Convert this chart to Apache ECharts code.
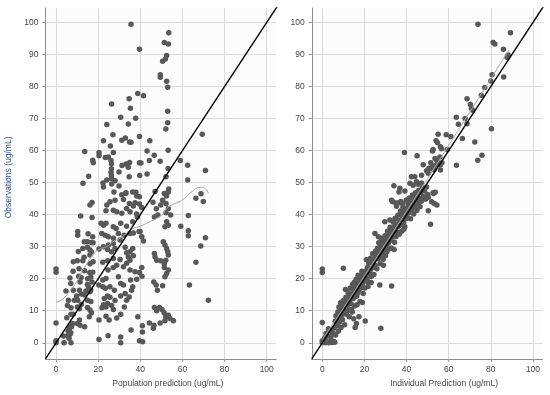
<!DOCTYPE html>
<html><head><meta charset="utf-8">
<script src="https://cdn.jsdelivr.net/npm/echarts@6/dist/echarts.min.js"></script>
<style>html,body{margin:0;padding:0;background:#fff}#c{width:550px;height:395px}</style>
</head><body><div id="c"></div>
<script>
const xTicks = [0, 20, 40, 60, 80, 100];
const yTicks = [0, 10, 20, 30, 40, 50, 60, 70, 80, 90, 100];
const leftXName = 'Population prediction (ug/mL)';
const rightXName = 'Individual Prediction (ug/mL)';
const yName = 'Observations (ug/mL)';

// [population prediction, observation]
const popPredObs = [
[35.6,99.4],[39.6,91.6],[53.5,96.8],[51.4,93.7],[53.3,93.3],[52.5,89.7],[51.9,88.6],[50.6,87.9],[49.5,83.7],[49.5,82.9],[52.5,81.6],[53.0,79.8],[53.0,72.3],[53.0,68.7],[52.1,66.7],[38.8,77.8],[41.5,77.1],[34.7,76.2],[35.3,73.2],[26.4,74.5],[30.7,70.4],[37.8,70.1],[34.3,68.3],[24.1,68.1],[69.4,65.1],[27.0,64.9],[39.6,64.4],[32.9,63.9],[31.2,63.2],[34.9,62.7],[35.6,62.6],[44.5,63.1],[22.5,63.1],[25.8,61.4],[13.6,59.7],[20.4,59.4],[27.2,59.4],[43.2,59.9],[53.2,60.1],[20.4,58.4],[23.4,57.8],[24.8,58.0],[46.6,58.5],[17.4,57.0],[17.7,56.2],[26.1,56.9],[26.3,55.9],[39.6,56.2],[40.3,56.1],[34.9,56.3],[33.2,55.8],[31.3,55.3],[44.3,56.9],[49.4,56.7],[59.0,56.9],[62.5,55.4],[34.3,54.8],[26.3,54.3],[53.2,54.4],[70.9,53.8],[26.1,53.2],[29.9,53.3],[15.5,52.0],[26.3,52.2],[34.7,51.8],[39.7,52.2],[43.2,52.7],[52.2,51.8],[26.4,51.2],[24.1,50.8],[28.0,50.6],[62.5,50.8],[12.8,49.8],[22.3,49.9],[22.5,48.6],[26.4,49.6],[29.9,48.9],[37.9,47.0],[33.2,46.8],[31.2,46.2],[47.0,47.2],[52.2,46.6],[68.8,46.5],[66.4,45.1],[69.9,44.1],[53.5,48.0],[39.6,45.6],
[0,23.0],[0,22.0],[0,6.2],[0,0.6],[0,0],[3.5,2.1],[3.8,0],[5.5,2.2],[5.7,3.7],[6.2,4.2],[7.0,3.1],[6.6,2.7],[7.4,5.0],[7.1,0],[6.2,1.4],
[4.7,16.2],[5.1,7.8],[5.4,11.6],[5.9,13.3],[7.0,18.5],[6.6,20.2],[7.1,10.9],[7.9,6.0],[8.2,16.4],[8.7,13.3],[9.8,14.6],[10.1,6.0],[10.1,11.2],[11.1,10.6],[11.1,16.4],[11.4,5.5],[11.1,7.1],[8.2,8.9],[7.1,8.9],[6.6,5.0],[12.0,15.2],[10.3,13.3],[8.1,22.3],[10.9,23.1],[10.8,20.8],[11.9,20.4],[11.4,19.0],[8.2,25.3],[10.1,25.6],[12.7,25.6],[13.3,26.7],[10.6,28.5],[12.7,29.4],[10.3,34.7],[10.3,33.6],[11.7,39.6],[13.6,5.0],
[13.4,31.5],[14.9,31.5],[16.8,31.3],[17.6,31.2],[15.2,34.0],[17.4,33.1],[14.9,29.8],[16.1,29.0],[16.8,28.3],[16.1,27.4],[16.1,24.7],[16.0,21.9],[16.5,20.5],[17.1,19.0],[14.9,18.2],[15.5,17.5],[16.5,16.4],[14.2,16.2],[14.9,16.2],[16.1,15.9],[14.9,13.3],[16.5,12.9],[14.9,11.0],[16.1,10.2],[16.8,9.4],[15.8,8.1],[13.3,15.0],[12.0,12.0],[17.1,43.8],[16.1,43.0],[17.1,39.1],[17.6,25.3],[17.4,22.0],[13.5,22.5],[15.0,20.0],
[20.4,1.0],[24.7,2.2],[30.7,1.8],[30.7,0],[39.6,0.6],[41.1,0.3],[41.0,5.3],[41.0,3.4],[38.8,8.1],[35.6,4.0],[20.4,7.1],[25.2,7.1],[23.7,8.3],[28.8,7.7],[30.7,8.9],
[21.8,10.9],[22.5,11.9],[23.7,11.2],[24.4,12.3],[26.4,11.6],[27.2,10.4],[22.9,13.8],[24.4,14.6],[25.6,14.2],[28.0,13.2],[30.7,14.6],[32.4,11.2],[33.5,13.3],[32.8,15.4],[34.7,14.3],
[20.3,18.0],[22.2,17.5],[23.4,17.0],[25.6,17.5],[22.2,19.6],[23.7,20.1],[27.7,16.4],[29.6,20.6],[30.7,18.5],[32.0,18.0],[35.4,19.6],[36.4,17.5],[35.9,16.4],[38.3,19.8],[40.8,20.8],
[24.7,22.7],[27.2,23.5],[28.8,24.2],[32.0,23.7],[33.5,24.8],[35.1,22.7],[37.5,22.2],[39.6,21.9],[40.7,23.5],
[22.2,25.1],[24.5,25.6],[27.2,26.3],[30.4,26.0],[34.3,26.8],[35.1,25.8],[36.7,27.2],[33.5,28.1],
[20.4,29.3],[22.5,30.0],[24.4,29.1],[26.4,28.4],[28.0,29.4],[24.8,30.5],[27.2,31.0],[30.4,32.1],[32.8,29.8],[36.4,29.4],[35.1,28.4],
[21.7,34.1],[23.3,33.6],[24.8,33.1],[27.2,32.6],[29.6,34.1],[32.3,33.6],[35.1,34.1],[36.7,34.3],[40.7,33.1],[41.5,31.8],[39.9,34.7],
[21.4,37.3],[22.5,36.7],[23.7,37.3],[27.2,36.2],[28.5,35.7],[30.7,37.3],[33.5,36.4],[36.4,37.8],[39.4,34.7],
[23.7,41.2],[27.2,41.4],[28.8,40.9],[31.2,40.4],[33.5,41.9],[35.1,40.9],[38.3,40.2],[38.6,39.3],[40.7,42.2],
[24.1,43.0],[25.6,44.0],[28.0,44.5],[32.0,44.7],[34.8,43.5],[36.7,42.7],[37.5,43.7],[39.6,43.3],
[33.1,46.6],[36.4,47.1],[38.3,45.8],[27.5,47.1],
[46.0,43.9],[47.6,41.8],[49.7,43.0],[50.6,44.5],[52.2,43.5],[53.3,41.9],[52.4,45.8],[53.3,47.1],[51.4,46.6],
[46.7,39.3],[48.3,39.9],[52.2,40.6],[52.5,37.8],[53.3,36.7],[51.7,36.2],[54.4,39.9],[59.2,36.4],
[46.7,27.9],[47.0,26.8],[47.8,25.8],[50.9,31.5],[51.7,30.5],[52.5,29.4],[53.0,28.4],[53.3,27.4],[52.1,25.8],[51.4,24.6],[49.7,25.6],
[46.4,19.0],[47.5,18.0],[48.1,16.4],[50.6,17.8],[51.7,20.6],[52.5,21.6],[53.3,22.7],[51.4,23.5],
[46.7,11.0],[47.8,10.0],[49.1,11.0],[50.3,10.4],[51.3,9.4],[52.1,8.1],[53.3,8.6],[54.1,7.6],[51.7,6.9],[49.4,6.2],[55.7,6.9],
[44.3,6.2],[46.2,4.5],[46.5,5.5],
[62.8,39.7],[62.8,35.0],[62.8,33.4],[63.3,18.0],[70.9,32.8],[68.7,30.2],[66.4,25.1],[72.3,13.3]
];

// smooth trend, population
const popSmooth = [[0,12.6],[2.8,13.5],[6.3,15.9],[10.3,19.6],[12,22],[14.2,24.2],[17.4,27.4],[20.6,29.2],[24,30],[27,31.5],[30,32.5],[33,34],[36,35.5],[39.1,36.2],[44.6,37.8],[50.2,39.9],[52.5,41.9],[54.9,43.0],[59.7,44.5],[64.4,47.1],[68.3,48.5],[70.5,48.3],[72.3,46.6]];

// [individual prediction, observation]
const indPredObs = [
[73.9,99.4],[89.3,96.8],[81.1,93.7],[81.9,93.3],[86.0,91.6],[88.2,89.8],[87.7,89.1],[86.1,83.0],[80.6,83.7],[80.0,81.7],[77.1,79.7],[75.5,77.3],[68.7,76.2],[70.3,74.4],[70.8,73.2],[71.3,72.6],[63.6,70.4],[67.8,70.0],[64.6,68.2],[68.7,68.4],[80.3,66.8],[55.0,65.1],[58.8,64.9],[61.0,64.4],[66.5,63.8],[72.4,62.7],[54.0,63.1],[54.7,62.4],[56.1,61.2],[39.0,59.4],[52.3,59.9],[59.3,60.3],[45.0,58.4],[75.8,58.5],[73.8,57.0],[53.5,57.5],[54.5,56.8],[55.2,56.0],[56.0,55.5],[53.8,55.4],[52.3,55.0],[51.5,56.2],[53.0,54.0],[56.8,56.2],[47.9,55.6],[63.7,55.4],[50.6,54.5],[51.8,54.4],[49.5,53.7],[56.1,53.9],[42.3,51.8],[43.9,51.8],[47.1,52.3],[50.3,52.9],[41.6,49.8],[44.7,50.3],[45.5,49.5],[43.1,49.2],[47.1,49.9],[34.0,49.0],[36.8,48.2],[36.4,47.1],[39.2,47.4],[32.9,44.5],[50.3,45.4],[52.6,46.8],[55.8,58.0],[52.6,60.3],[56.6,60.6],
[0,23.0],[0,21.9],[0,6.3],[10.0,23.3],
[0,0],[0,0.6],[0.8,0.2],[1.5,0],[2.2,0.3],[3.1,0],[3.8,0.4],[4.6,0.1],[5.3,0.5],[5.9,0.2],[1.2,1.6],[2.6,2.1],[3.4,3.8],[4.1,1.9],[4.9,3.1],[5.6,4.6],[6.3,2.4],[6.8,5.2],[2.9,4.4],[1.8,2.9],
[7.2,7.9],[7.6,3.6],[8.1,6.4],[8.4,9.8],[8.9,4.8],[9.3,11.4],[9.6,7.2],[9.9,13.1],[10.3,9.1],[10.6,5.6],[6.5,8.4],[7.9,11.2],[8.7,12.5],[9.1,8.6],[6.1,6.7],[7.4,9.6],[10.8,12.0],[10.1,10.4],
[11.2,14.2],[11.5,8.9],[11.9,11.7],[12.3,15.6],[12.6,10.2],[12.9,13.4],[13.3,17.1],[13.6,12.2],[13.9,15.1],[14.2,9.6],[14.4,18.3],[14.7,13.8],[15.0,16.4],[15.3,11.5],[11.0,16.6],[12.1,12.8],[13.1,14.7],[14.1,16.9],[15.2,18.9],[11.7,9.9],[12.8,8.1],[13.8,10.4],[15.5,14.3],[14.9,7.5],[16.2,6.0],[15.6,4.8],
[15.8,17.6],[16.1,19.8],[16.4,14.6],[16.7,18.2],[17.0,21.1],[17.3,16.3],[17.6,19.4],[17.9,12.9],[18.2,20.6],[18.5,17.2],[18.8,22.3],[19.1,18.6],[19.4,15.4],[19.7,20.9],[20.0,19.3],[16.9,15.7],[18.0,18.9],[19.2,21.4],[20.2,17.1],[20.4,6.8],[17.4,8.1],[19.0,12.6],[16.5,11.9],
[20.6,22.4],[20.9,25.9],[21.2,20.1],[21.5,23.5],[21.8,19.0],[22.1,24.8],[22.4,21.6],[22.7,26.3],[23.0,22.9],[23.3,20.7],[23.6,25.1],[23.9,27.8],[24.2,23.6],[24.5,21.3],[24.8,26.4],[25.1,24.2],[21.0,21.9],[22.6,23.2],[24.0,25.5],[25.3,28.6],[23.2,18.8],[21.7,17.6],
[25.6,27.3],[25.9,23.1],[26.2,29.5],[26.5,26.2],[26.8,31.2],[27.1,28.1],[27.4,24.7],[27.7,30.3],[28.0,27.0],[28.3,32.6],[28.6,29.2],[28.9,26.1],[29.2,31.4],[29.5,28.3],[29.8,33.4],[30.1,30.1],[26.3,27.9],[27.6,29.0],[28.8,30.6],[30.0,27.2],[27.3,18.0],[27.8,4.5],[29.0,24.2],
[30.4,32.2],[30.7,28.5],[31.0,34.8],[31.3,31.1],[31.6,29.3],[31.9,33.7],[32.2,36.1],[32.5,31.9],[32.8,29.6],[33.1,35.2],[33.4,33.0],[33.7,37.6],[34.0,34.1],[34.3,31.4],[34.6,36.3],[34.9,38.9],[31.4,32.8],[32.6,34.4],[33.8,35.9],[35.0,33.2],[32.9,17.7],[34.1,29.1],
[35.3,37.1],[35.6,34.6],[35.9,39.8],[36.2,36.4],[36.5,33.9],[36.8,38.2],[37.1,41.1],[37.4,36.9],[37.7,34.8],[38.0,39.5],[38.3,42.3],[38.6,37.6],[38.9,40.4],[39.2,36.2],[39.5,41.7],[39.8,38.8],[36.0,43.6],[37.3,44.1],[35.2,42.6],[38.1,43.4],[39.9,44.6],[36.9,40.1],[38.7,35.4],
[40.1,42.0],[40.4,39.1],[40.7,43.4],[41.0,40.6],[41.3,45.2],[41.6,42.1],[41.9,38.7],[42.2,44.3],[42.5,41.5],[42.8,46.1],[43.1,43.0],[43.4,40.2],[43.7,45.3],[44.0,42.6],[44.3,46.8],[44.6,44.0],[44.9,41.3],[45.2,46.3],[45.5,43.6],[45.8,47.6],[46.1,45.1],[46.4,42.5],[46.7,46.9],[47.0,44.2],[47.5,48.3],[48.0,45.6],[48.5,47.4],[49.0,44.8],[49.5,48.6],[50.0,46.3],[50.3,41.2],[51.4,37.0],[51.9,44.0],[53.2,43.5],[52.8,46.6],[53.6,47.0],[54.4,43.0],
[29.7,37.8],[32.1,38.3],[34.5,38.8],[36.8,37.8],[25.0,34.1],[26.6,33.1],[28.1,32.1],[29.7,31.0],[33.4,44.0],[35.0,43.6]
];

// smooth trend, individual
const indSmooth = [[0,1.0],[10,10.8],[20,20.9],[30,31.0],[40,41.1],[50,51.3],[60,61.6],[70,72.0],[80,82.4],[88.5,91.3]];

// line of identity
const identity = [[-5,-5],[110,110]];

const FONT = 'Liberation Sans, Arial, sans-serif';
const AX = '#8c8c8c';

function xAxis(gi, name, pad) {
  return {
    type: 'value', gridIndex: gi, min: -5, max: 104.5,
    name: name, nameLocation: 'middle', nameGap: 20,
    nameTextStyle: {fontSize: 8.5, color: '#444', fontFamily: FONT, padding: [0, 0, 0, pad]},
    axisLine: {show: true, onZero: false, lineStyle: {color: AX, width: 1}},
    axisTick: {show: true, customValues: xTicks, length: 3, lineStyle: {color: AX}},
    axisLabel: {customValues: xTicks, fontSize: 8.5, color: '#444', margin: 6, fontFamily: FONT},
    splitLine: {show: true, lineStyle: {color: '#dcdcdc', width: 1}}
  };
}
function yAxis(gi, name) {
  const a = {
    type: 'value', gridIndex: gi, min: -5, max: 104.5,
    axisLine: {show: true, onZero: false, lineStyle: {color: AX, width: 1}},
    axisTick: {show: true, customValues: yTicks, length: 3, lineStyle: {color: AX}},
    axisLabel: {customValues: yTicks, fontSize: 8.5, color: '#444', margin: 7, fontFamily: FONT},
    splitLine: {show: true, lineStyle: {color: '#dcdcdc', width: 1}}
  };
  if (name) {
    a.name = name; a.nameLocation = 'middle'; a.nameGap = 32;
    a.nameTextStyle = {fontSize: 8.5, color: '#2f4f86', fontFamily: FONT, padding: [0, 0, 0, 12]};
  }
  return a;
}

const chart = echarts.init(document.getElementById('c'), null, {renderer: 'canvas'});
chart.setOption({
  animation: false,
  backgroundColor: '#fff',
  grid: [
    {left: 45.5, top: 8, width: 230.7, height: 350.8, show: true, backgroundColor: '#fcfcfd', borderWidth: 0},
    {left: 311.75, top: 8, width: 230.7, height: 350.8, show: true, backgroundColor: '#fcfcfd', borderWidth: 0}
  ],
  xAxis: [xAxis(0, leftXName, 14), xAxis(1, rightXName, 34)],
  yAxis: [yAxis(0, yName), yAxis(1, null)],
  series: [
    {type: 'scatter', xAxisIndex: 0, yAxisIndex: 0, data: popPredObs, symbolSize: 5.5, itemStyle: {color: '#585858', opacity: 1}},
    {type: 'line', xAxisIndex: 0, yAxisIndex: 0, data: popSmooth, smooth: 0.5, showSymbol: false, lineStyle: {color: '#a8a8a8', width: 1}},
    {type: 'line', xAxisIndex: 0, yAxisIndex: 0, data: identity, showSymbol: false, clip: true, lineStyle: {color: '#000', width: 1.4}},
    {type: 'scatter', xAxisIndex: 1, yAxisIndex: 1, data: indPredObs, symbolSize: 5.5, itemStyle: {color: '#585858', opacity: 1}},
    {type: 'line', xAxisIndex: 1, yAxisIndex: 1, data: indSmooth, smooth: 0.5, showSymbol: false, lineStyle: {color: '#a8a8a8', width: 1}},
    {type: 'line', xAxisIndex: 1, yAxisIndex: 1, data: identity, showSymbol: false, clip: true, lineStyle: {color: '#000', width: 1.4}}
  ]
});
</script>
</body></html>
